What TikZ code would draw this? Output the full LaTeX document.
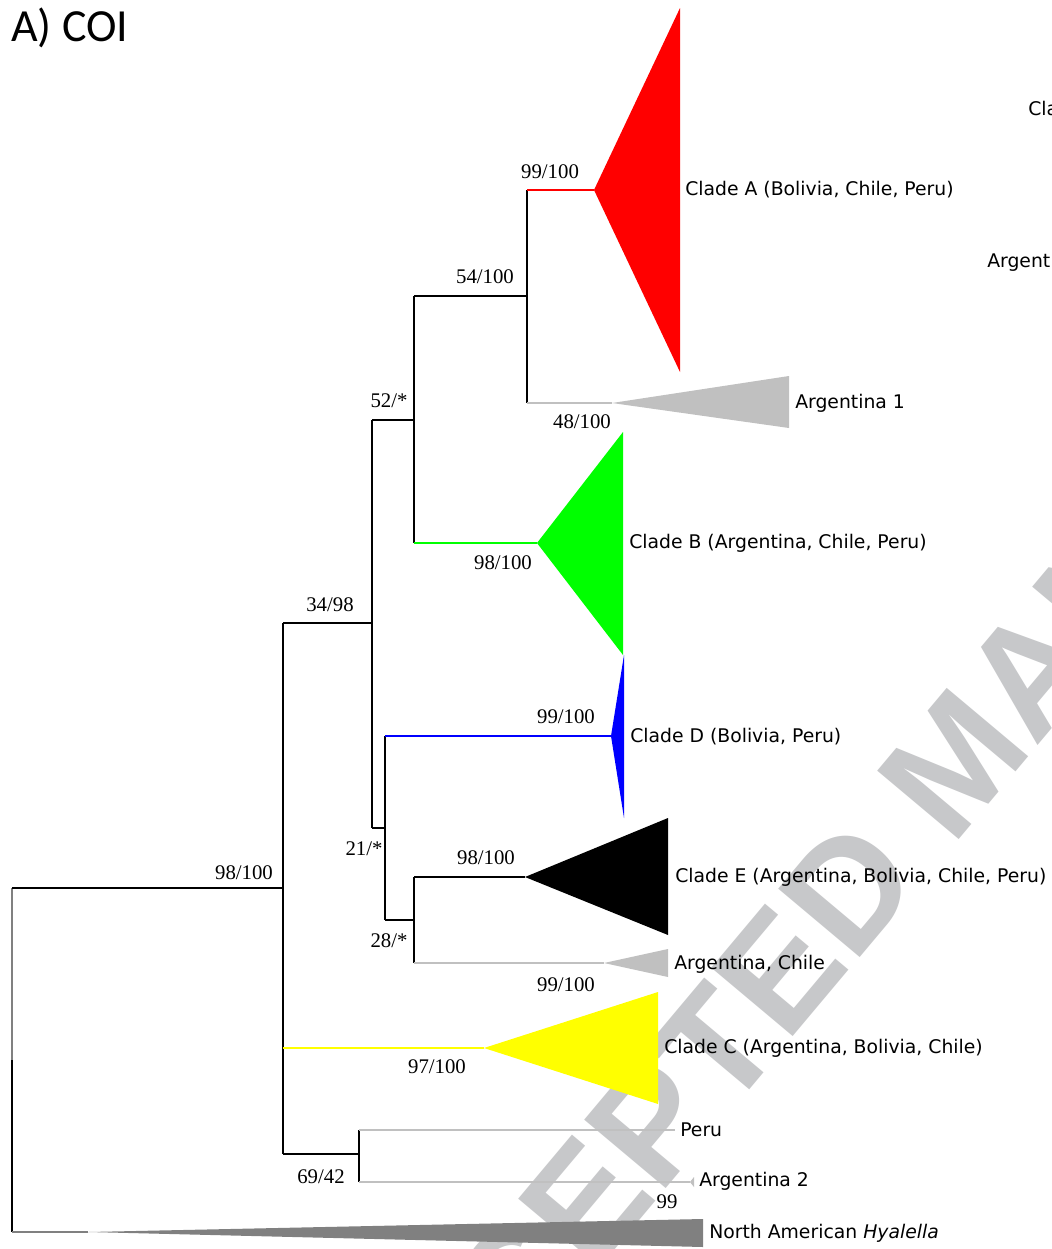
\documentclass[tikz,border=0pt]{standalone}
\usepackage{fontspec}
\setmainfont{DejaVu Sans}
\newfontfamily\numfont{Liberation Serif}
\newfontfamily\titlefont{Carlito}
\newfontfamily\wmfont{Liberation Sans}
\definecolor{lgray}{RGB}{192,192,192}
\definecolor{dgray}{RGB}{128,128,128}
\definecolor{wmgray}{RGB}{199,200,202}
\definecolor{cred}{RGB}{255,0,0}
\definecolor{cgreen}{RGB}{0,255,0}
\definecolor{cblue}{RGB}{0,0,255}
\definecolor{cyellow}{RGB}{255,255,0}
\begin{document}
\begin{tikzpicture}[x=0.75pt,y=-0.75pt,
  blk/.style={line width=1.5pt, black},
  thin/.style={line width=1.1pt},
  taxon/.style={anchor=base west, inner sep=0, font=\fontsize{14.1}{16}\selectfont},
  bsup/.style={anchor=base, inner sep=0, font=\numfont\fontsize{15.6}{17}\selectfont},
  wm/.style={anchor=base west, inner sep=0, text=wmgray, font=\wmfont\bfseries\fontsize{116}{120}\selectfont}]
\useasboundingbox (0,0) rectangle (1051,1249);
\fill[white] (0,0) rectangle (1051,1249);
\begin{scope}
\clip (0,0) rectangle (1051,1249);
% watermark
\node[wm, rotate=50] (wmark) at (378,1532) {ACCEPTED MANUSCRIPT};
% cut-off labels of neighbouring panel
\node[taxon] (cla) at (1028,115) {Clade B (Argentina, Chile, Peru)};
\node[taxon] (argx) at (987,267) {Argentina, Chile};
\end{scope}

% internal nodes
\coordinate (R) at (12,1060);
\coordinate (N98) at (283,888);
\coordinate (N34) at (372,623);
\coordinate (N52) at (414,420);
\coordinate (N54) at (527,296);
\coordinate (N21) at (385,828);
\coordinate (N28) at (414,920);
\coordinate (N69) at (359,1154);
% tips
\coordinate (tA) at (594,190);
\coordinate (tA1) at (612,403);
\coordinate (tB) at (537,543);
\coordinate (tD) at (611,736);
\coordinate (tE) at (525,877);
\coordinate (tAC) at (604,963);
\coordinate (tC) at (484,1048);
\coordinate (tP) at (675,1130);
\coordinate (tA2) at (690,1182);
\coordinate (tNA) at (88,1232);

% collapsed clades
\fill[cred] (tA) -- (680,8) -- (680,372) -- cycle;
\fill[lgray] (tA1) -- (789,376) -- (789,428) -- cycle;
\fill[cgreen] (tB) -- (623,432) -- (623,655) -- cycle;
\fill[cblue] (624,655) -- (tD) -- (624,818) -- cycle;
\fill[black] (tE) -- (668,818) -- (668,935) -- cycle;
\fill[lgray] (tAC) -- (668,949) -- (668,977) -- cycle;
\fill[cyellow] (tC) -- (658,992) -- (658,1104) -- cycle;
\fill[lgray] (tA2) -- (694,1177) -- (694,1187) -- cycle;
\fill[dgray] (tNA) -- (703,1219) -- (703,1247) -- cycle;

% vertical lines
\draw[dgray, line width=1.5pt] (R |- N98) -- (R);
\draw[blk] (R) -- (R |- tNA);
\draw[blk] (N98 |- N34) -- (N98 |- N69);
\draw[blk] (N34 |- N52) -- (N34 |- N21);
\draw[blk] (N52 |- N54) -- (N52 |- tB);
\draw[blk] (N54 |- tA) -- (N54 |- tA1);
\draw[blk] (N21 |- tD) -- (N21 |- N28);
\draw[blk] (N28 |- tE) -- (N28 |- tAC);
\draw[blk] (N69 |- tP) -- (N69 |- tA2);

% horizontal lines
\draw[blk] (R |- N98) -- (N98);
\draw[thin, dgray] (R |- tNA) -- (tNA);
\draw[blk] (N98 |- N34) -- (N34);
\draw[thin, cyellow] (N98 |- tC) -- (tC);
\draw[blk] (N98 |- N69) -- (N69);
\draw[blk] (N34 |- N52) -- (N52);
\draw[blk] (N34 |- N21) -- (N21);
\draw[blk] (N52 |- N54) -- (N54);
\draw[thin, cgreen] (N52 |- tB) -- (tB);
\draw[thin, cred] (N54 |- tA) -- (tA);
\draw[thin, lgray] (N54 |- tA1) -- (tA1);
\draw[thin, cblue] (N21 |- tD) -- (tD);
\draw[blk] (N21 |- N28) -- (N28);
\draw[blk] (N28 |- tE) -- (tE);
\draw[thin, lgray] (N28 |- tAC) -- (tAC);
\draw[thin, lgray] (N69 |- tP) -- (tP);
\draw[thin, lgray] (N69 |- tA2) -- (tA2);

% support values
\node[bsup] (s1) at (550,178) {99/100};
\node[bsup] (s2) at (485,283) {54/100};
\node[bsup] (s3) at (582,428) {48/100};
\node[bsup] (s4) at (389,407) {52/*};
\node[bsup] (s5) at (503,569) {98/100};
\node[bsup] (s6) at (330,611) {34/98};
\node[bsup] (s7) at (566,723) {99/100};
\node[bsup] (s8) at (364,855) {21/*};
\node[bsup] (s9) at (486,864) {98/100};
\node[bsup] (s10) at (389,947) {28/*};
\node[bsup] (s11) at (566,991) {99/100};
\node[bsup] (s12) at (437,1073) {97/100};
\node[bsup] (s13) at (244,879) {98/100};
\node[bsup] (s14) at (321,1183) {69/42};
\node[bsup] (s15) at (667,1208) {99};

% taxa
\node[taxon] (lA) at (685,195) {Clade A (Bolivia, Chile, Peru)};
\node[taxon] (lA1) at (795,408) {Argentina 1};
\node[taxon] (lB) at (629,548) {Clade B (Argentina, Chile, Peru)};
\node[taxon] (lD) at (630,742) {Clade D (Bolivia, Peru)};
\node[taxon] (lE) at (675,882) {Clade E (Argentina, Bolivia, Chile, Peru)};
\node[taxon] (lAC) at (674,969) {Argentina, Chile};
\node[taxon] (lC) at (664,1053) {Clade C (Argentina, Bolivia, Chile)};
\node[taxon] (lP) at (680,1136) {Peru};
\node[taxon] (lA2) at (699,1186) {Argentina 2};
\node[taxon] (lNA) at (709,1238) {North American \textit{Hyalella}};

% title
\node[anchor=base west, inner sep=0, font=\titlefont\fontsize{34.5}{40}\selectfont] (title) at (11,41) {A) COI};
\end{tikzpicture}
\end{document}
